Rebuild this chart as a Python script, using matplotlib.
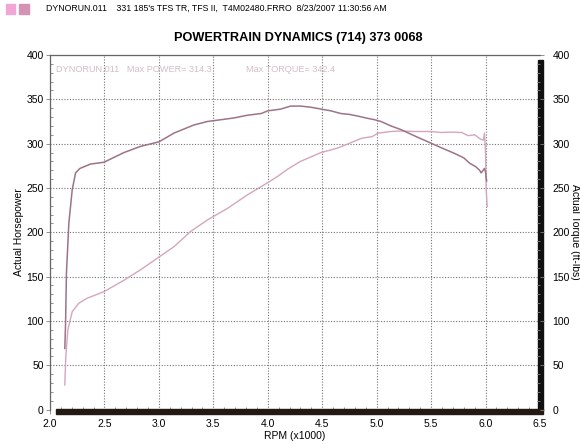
import matplotlib
matplotlib.use("Agg")
import matplotlib.pyplot as plt
from matplotlib.ticker import MultipleLocator, FormatStrFormatter
from matplotlib.patches import Rectangle

# values (rpm in thousands)
torque_rpm = [2.136, 2.143, 2.151, 2.173, 2.204, 2.235, 2.274, 2.373, 2.495, 2.68, 2.833,
              3.0, 3.14, 3.32, 3.446, 3.57, 3.69, 3.81, 3.94, 4.0, 4.12, 4.21, 4.30, 4.40,
              4.49, 4.58, 4.67, 4.75, 4.83, 4.90, 4.98, 5.04, 5.13, 5.22, 5.255, 5.38, 5.50,
              5.60, 5.715, 5.80, 5.853, 5.91, 5.945, 5.96, 5.99, 6.0, 6.005, 6.01]
torque_val = [69, 97, 154, 210, 248, 267, 272, 277, 279, 290, 297,
              302, 312, 321, 325, 327, 329, 332, 334, 337, 339, 342.4, 342.4, 341,
              339, 337, 334, 333, 331, 329, 327, 325, 320, 316, 314, 307, 300.5,
              295, 289, 284, 278, 274, 270, 267, 272, 268, 262, 258]

power_rpm = [2.136, 2.145, 2.164, 2.204, 2.265, 2.34, 2.495, 2.68, 2.83, 2.986, 3.14,
             3.29, 3.446, 3.63, 3.81, 4.0, 4.09, 4.18, 4.30, 4.49, 4.64, 4.73, 4.86,
             4.96, 5.01, 5.13, 5.22, 5.35, 5.50, 5.59, 5.68, 5.78, 5.84, 5.90, 5.955,
             5.98, 5.99, 6.0, 6.006, 6.015]
power_val = [27.8, 59.7, 90, 110.5, 120, 125.6, 133, 146, 157.6, 170.8, 183.9,
             200.8, 214, 227, 242, 256, 263, 271, 280, 290, 295, 299.4, 306,
             308, 311.8, 313.7, 314.3, 313.7, 313.7, 312.6, 313, 312.6, 309, 310, 305,
             304, 312, 290, 248, 229]

header = "DYNORUN.011    331 185's TFS TR, TFS II,  T4M02480.FRRO  8/23/2007 11:30:56 AM"
title = "POWERTRAIN DYNAMICS (714) 373 0068"

plt.rcParams["font.family"] = ["Liberation Sans", "DejaVu Sans"]

fig = plt.figure(figsize=(5.8, 4.44), dpi=100)
ax = fig.add_axes([50 / 580, 1 - 409.6 / 444, 490 / 580, 354.6 / 444])

ax.plot(power_rpm, power_val, c="#d4a6bd", lw=1.0, zorder=3)
ax.plot(torque_rpm, torque_val, c="#9c7487", lw=1.1, zorder=4)

ax.set_xlim(2.0, 6.5)
ax.set_ylim(0, 400)
ax.xaxis.set_major_locator(MultipleLocator(0.5))
ax.xaxis.set_minor_locator(MultipleLocator(0.1))
ax.yaxis.set_major_locator(MultipleLocator(50))
ax.yaxis.set_minor_locator(MultipleLocator(10))
ax.xaxis.set_major_formatter(FormatStrFormatter("%.1f"))
ax.grid(True, which="major", ls=(0, (1, 1.5)), c="0.45", lw=0.8)
ax.tick_params(which="major", direction="out", length=3, width=0.6, color="0.5",
               labelsize=7.5, pad=1.5)
ax.tick_params(which="minor", direction="in", length=2.5, width=0.6, color="0.5")
ax.tick_params(axis="x", which="major", pad=4)

for s in ("left", "top"):
    ax.spines[s].set_color("0.4")
    ax.spines[s].set_linewidth(0.9)
ax.spines["right"].set_visible(False)
ax.spines["bottom"].set_visible(False)
# scanned thick edges at the right and the bottom of the plot frame
ax.add_patch(Rectangle((1.0 - 0.004, 0), 0.011, 0.985, transform=ax.transAxes,
                       color="#111111", clip_on=False, zorder=6))
ax.add_patch(Rectangle((0.012, -0.012), 0.995, 0.013, transform=ax.transAxes,
                       color="#231a14", clip_on=False, zorder=6))

ax2 = ax.twinx()
ax2.set_ylim(0, 400)
ax2.yaxis.set_major_locator(MultipleLocator(50))
ax2.yaxis.set_minor_locator(MultipleLocator(10))
ax2.tick_params(which="major", direction="out", length=3, width=0.6, color="0.5",
                labelsize=7.5, pad=6)
ax2.tick_params(which="minor", direction="in", length=2.5, width=0.6, color="0.5")
for s in ax2.spines.values():
    s.set_visible(False)

ax.set_xlabel("RPM (x1000)", fontsize=7.5, labelpad=1)
ax.set_ylabel("Actual Horsepower", fontsize=7.5, labelpad=1.5)
ax2.set_ylabel("Actual Torque (ft-lbs)", fontsize=7.5, rotation=270, labelpad=7)

ax.text(0.012, 0.96, "DYNORUN.011   Max POWER= 314.3", transform=ax.transAxes,
        fontsize=6.6, color="#d3bcc8", va="center")
ax.text(0.40, 0.96, "Max TORQUE= 342.4", transform=ax.transAxes,
        fontsize=6.6, color="#d3bcc8", va="center")

fig.text(46 / 580, 1 - 8 / 444, header, fontsize=6.3, va="center")
fig.text(298 / 580, 1 - 38 / 444, title, fontsize=9.2, fontweight="bold",
         ha="center", va="center")
fig.patches.append(Rectangle((6 / 580, 1 - 14 / 444), 9 / 580, 10 / 444,
                             transform=fig.transFigure, color="#f2a6d6"))
fig.patches.append(Rectangle((19 / 580, 1 - 14 / 444), 10 / 580, 10 / 444,
                             transform=fig.transFigure, color="#d493b5"))

fig.savefig("out.png", dpi=100)
